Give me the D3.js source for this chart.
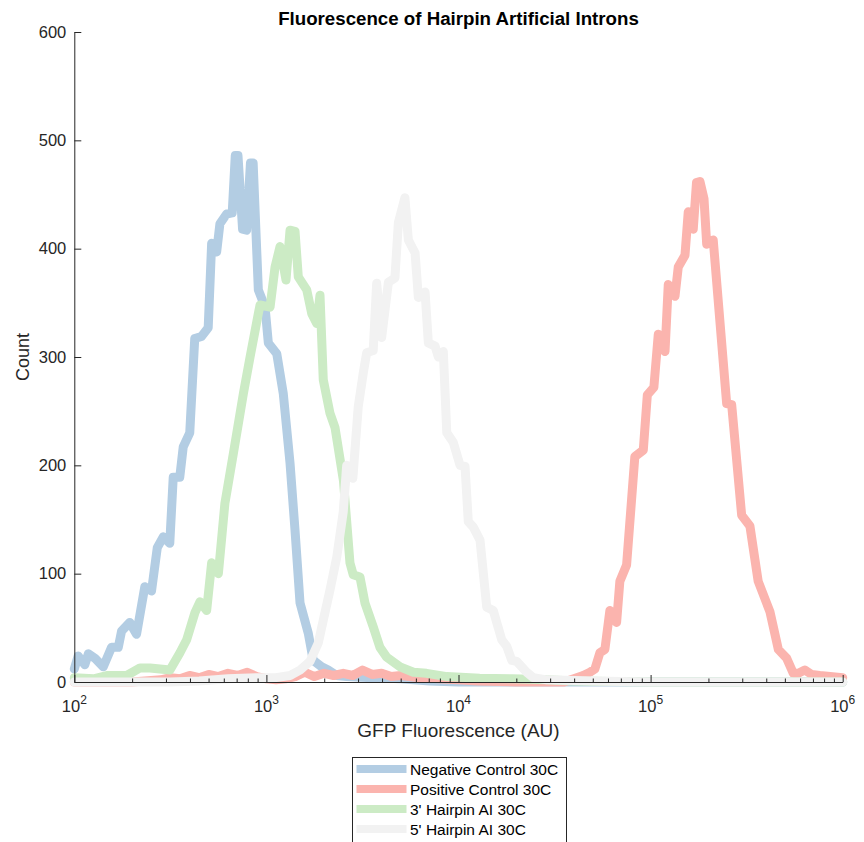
<!DOCTYPE html>
<html>
<head>
<meta charset="utf-8">
<script src="https://cdn.jsdelivr.net/npm/d3@7"></script>
<style>
    body { margin: 0; background: #fff; }
    svg { display: block; font-family: "Liberation Sans", Arial, sans-serif; }
</style>
</head>
<body>
<div id="chart"></div>
<script>
// Histogram values: x as log10(fluorescence), y as count

// Negative Control 30C
var negExp = [2.00, 2.02, 2.055, 2.073, 2.107, 2.151, 2.194, 2.229, 2.246, 2.289, 2.324, 2.367, 2.402,
    2.432, 2.463, 2.497, 2.515, 2.549, 2.567, 2.601, 2.627, 2.662, 2.697, 2.715, 2.741, 2.758, 2.793,
    2.822, 2.838, 2.852, 2.876, 2.897, 2.917, 2.931, 2.958, 2.993, 3.01, 3.054, 3.088, 3.123, 3.149,
    3.175, 3.218, 3.244, 3.288, 3.322, 3.366, 3.418, 3.55, 3.7, 3.85, 4.0, 6.0];
var negCount = [12, 24, 16, 26, 22, 14, 32, 32, 47, 55, 44, 88, 84,
    124, 134, 128, 189, 189, 217, 230, 317, 319, 327, 405, 397, 423, 432,
    433, 486, 486, 418, 417, 479, 479, 362, 346, 313, 303, 266, 202, 140,
    73, 45, 20, 14, 11, 6, 5, 4, 3, 1, 0, 0];

// Positive Control 30C
var posExp = [2.0, 2.3, 2.45, 2.5, 2.55, 2.6, 2.65, 2.7, 2.75, 2.8, 2.85, 2.9, 2.95, 3.0, 3.05,
    3.1, 3.15, 3.2, 3.25, 3.3, 3.35, 3.4, 3.45, 3.5, 3.55, 3.6, 3.65, 3.7, 3.8, 3.9, 4.0, 4.1,
    4.3, 4.55, 4.6, 4.649, 4.684, 4.71, 4.736, 4.762, 4.788, 4.823, 4.84, 4.875, 4.918, 4.962,
    4.983, 5.017, 5.04, 5.075, 5.092, 5.127, 5.144, 5.179, 5.196, 5.222, 5.239, 5.257, 5.278,
    5.292, 5.326, 5.396, 5.422, 5.474, 5.517, 5.56, 5.621, 5.665, 5.708, 5.743, 5.769, 5.803,
    5.838, 5.881, 5.934, 6.0];
var posCount = [0, 0, 2, 4, 3, 6, 4, 7, 5, 8, 6, 9, 5, 3, 2,
    3, 5, 9, 5, 8, 6, 8, 6, 11, 7, 8, 5, 6, 4, 3, 2, 1,
    0, 0, 3, 6, 9, 12, 27, 30, 66, 55, 93, 108, 208, 214,
    265, 272, 321, 305, 367, 356, 383, 394, 434, 418, 461, 462, 446,
    404, 408, 257, 256, 154, 144, 93, 65, 30, 22, 8, 8, 11,
    7, 6, 5, 4];

// 3' Hairpin AI 30C
var hp3Exp = [2.0, 2.1, 2.169, 2.273, 2.342, 2.394, 2.446, 2.498, 2.55, 2.585, 2.628, 2.654, 2.689,
    2.715, 2.75, 2.784, 2.828, 2.88, 2.915, 2.958, 2.967, 3.019, 3.045, 3.071, 3.102, 3.123, 3.149,
    3.166, 3.21, 3.236, 3.262, 3.279, 3.296, 3.331, 3.357, 3.401, 3.435, 3.452, 3.487, 3.513, 3.556,
    3.591, 3.626, 3.696, 3.765, 3.834, 3.94, 4.11, 4.28, 4.46, 4.6, 5.0, 6.0];
var hp3Count = [4, 3, 6, 6, 13, 13, 12, 11, 27, 39, 64, 74, 66,
    110, 100, 165, 211, 266, 300, 340, 348, 346, 383, 402, 371, 417, 416,
    374, 362, 340, 331, 357, 279, 248, 235, 186, 110, 99, 97, 73, 51,
    32, 23, 14, 9, 8, 5, 3.5, 3, 2, 1, 0, 0];

// 5' Hairpin AI 30C
var hp5Exp = [2.0, 2.5, 2.65, 2.8, 2.95, 3.05, 3.123, 3.175, 3.227, 3.27, 3.296, 3.331, 3.366, 3.40,
    3.418, 3.45, 3.478, 3.504, 3.522, 3.556, 3.574, 3.60, 3.635, 3.669, 3.687, 3.721, 3.739, 3.774,
    3.791, 3.826, 3.843, 3.878, 3.895, 3.921, 3.939, 3.973, 4.008, 4.034, 4.051, 4.077, 4.112, 4.147,
    4.181, 4.225, 4.251, 4.277, 4.303, 4.355, 4.39, 4.46, 4.7, 5.0, 5.5, 6.0];
var hp5Count = [0, 0, 1, 3, 4, 4, 6, 11, 19, 36, 57, 85, 115, 157,
    200, 188, 254, 285, 304, 306, 368, 318, 369, 373, 424, 447, 408, 396,
    355, 360, 313, 310, 300, 305, 230, 221, 200, 199, 148, 143, 131, 69,
    66, 39, 33, 20, 19, 9, 4, 2, 1, 0, 0, 0];

var seriesNames = ['Negative Control 30C', 'Positive Control 30C', "3' Hairpin AI 30C", "5' Hairpin AI 30C"];
var seriesColors = ['#b3cde3', '#fbb4ae', '#ccebc5', '#f2f2f2'];
var xTickValues = [1e2, 1e3, 1e4, 1e5, 1e6];
var yTickValues = [0, 100, 200, 300, 400, 500, 600];

// Build the series as [fluorescence, count] points
var seriesData = [
    [negExp, negCount], [posExp, posCount], [hp3Exp, hp3Count], [hp5Exp, hp5Count]
].map(function(s, k) {
    return {
        name: seriesNames[k],
        color: seriesColors[k],
        values: s[0].map(function(e, i) { return [Math.pow(10, e), s[1][i]]; })
    };
});

var width = 864, height = 842;
var plot = { left: 74.3, right: 842.7, top: 32, bottom: 682 };
var axisColor = '#262626';

var svg = d3.select('#chart').append('svg')
    .attr('width', width)
    .attr('height', height);

// Scales
var x = d3.scaleLog().domain([1e2, 1e6]).range([plot.left, plot.right]);
var y = d3.scaleLinear().domain([0, 600]).range([plot.bottom, plot.top]);

// Draw the histogram lines
var line = d3.line()
    .x(function(d) { return x(d[0]); })
    .y(function(d) { return y(d[1]); });

svg.append('g').selectAll('path')
    .data(seriesData)
    .enter()
    .append('path')
    .attr('d', function(d) { return line(d.values); })
    .attr('fill', 'none')
    .attr('stroke', function(d) { return d.color; })
    .attr('stroke-width', 9)
    .attr('stroke-linejoin', 'round')
    .attr('stroke-linecap', 'round');

// Minor ticks of the log axis
var minorTicks = x.ticks().filter(function(v) { return xTickValues.indexOf(v) < 0; });
svg.append('g')
    .attr('transform', 'translate(0,' + plot.bottom + ')')
    .call(d3.axisBottom(x).tickValues(minorTicks).tickSize(-3.5).tickFormat(''))
    .call(function(g) { g.select('.domain').remove(); })
    .selectAll('line').attr('stroke', axisColor);

// X axis with major ticks, labels as powers of ten
var xAxis = svg.append('g')
    .attr('transform', 'translate(0,' + plot.bottom + ')')
    .call(d3.axisBottom(x).tickValues(xTickValues).tickSizeInner(-7).tickSizeOuter(0).tickFormat(''));
xAxis.select('.domain').attr('stroke', axisColor);
xAxis.selectAll('line').attr('stroke', axisColor);

var xLabels = svg.append('g').selectAll('text')
    .data(xTickValues)
    .enter()
    .append('text')
    .attr('x', function(d) { return x(d); })
    .attr('y', plot.bottom + 30)
    .attr('text-anchor', 'middle')
    .attr('fill', axisColor)
    .attr('font-size', '16.5px');
xLabels.append('tspan').text('10');
xLabels.append('tspan')
    .attr('dy', -8)
    .attr('font-size', '12px')
    .text(function(d) { return Math.round(Math.log10(d)); });

// Y axis, ticks pointing inside
var yAxis = svg.append('g')
    .attr('transform', 'translate(' + plot.left + ',0)')
    .call(d3.axisLeft(y).tickValues(yTickValues).tickSizeInner(-7).tickSizeOuter(0).tickPadding(8));
yAxis.select('.domain').attr('stroke', axisColor);
yAxis.selectAll('line').attr('stroke', axisColor);
yAxis.selectAll('text')
    .attr('fill', axisColor)
    .attr('font-size', '16.5px')
    .attr('font-family', '"Liberation Sans", Arial, sans-serif');

// Title and axis labels
svg.append('text')
    .attr('x', (plot.left + plot.right) / 2)
    .attr('y', 25)
    .attr('text-anchor', 'middle')
    .attr('font-size', '18.7px')
    .attr('font-weight', 'bold')
    .attr('fill', '#000')
    .text('Fluorescence of Hairpin Artificial Introns');

svg.append('text')
    .attr('x', (plot.left + plot.right) / 2)
    .attr('y', 737)
    .attr('text-anchor', 'middle')
    .attr('font-size', '19px')
    .attr('fill', axisColor)
    .text('GFP Fluorescence (AU)');

svg.append('text')
    .attr('transform', 'translate(28.5,' + (plot.top + plot.bottom) / 2 + ') rotate(-90)')
    .attr('text-anchor', 'middle')
    .attr('font-size', '18px')
    .attr('fill', axisColor)
    .text('Count');

// Legend
var legend = svg.append('g').attr('transform', 'translate(352.5,757.5)');
legend.append('rect')
    .attr('width', 214)
    .attr('height', 90)
    .attr('fill', '#fff')
    .attr('stroke', axisColor)
    .attr('stroke-width', 1);

var rows = legend.selectAll('g.row')
    .data(seriesData)
    .enter()
    .append('g')
    .classed('row', true)
    .attr('transform', function(d, i) { return 'translate(0,' + (11.5 + i * 20) + ')'; });
rows.append('line')
    .attr('x1', 4).attr('x2', 54)
    .attr('stroke', function(d) { return d.color; })
    .attr('stroke-width', 8);
rows.append('text')
    .attr('x', 57.5)
    .attr('y', 5.5)
    .attr('font-size', '15.5px')
    .attr('fill', '#000')
    .text(function(d) { return d.name; });
</script>
</body>
</html>
